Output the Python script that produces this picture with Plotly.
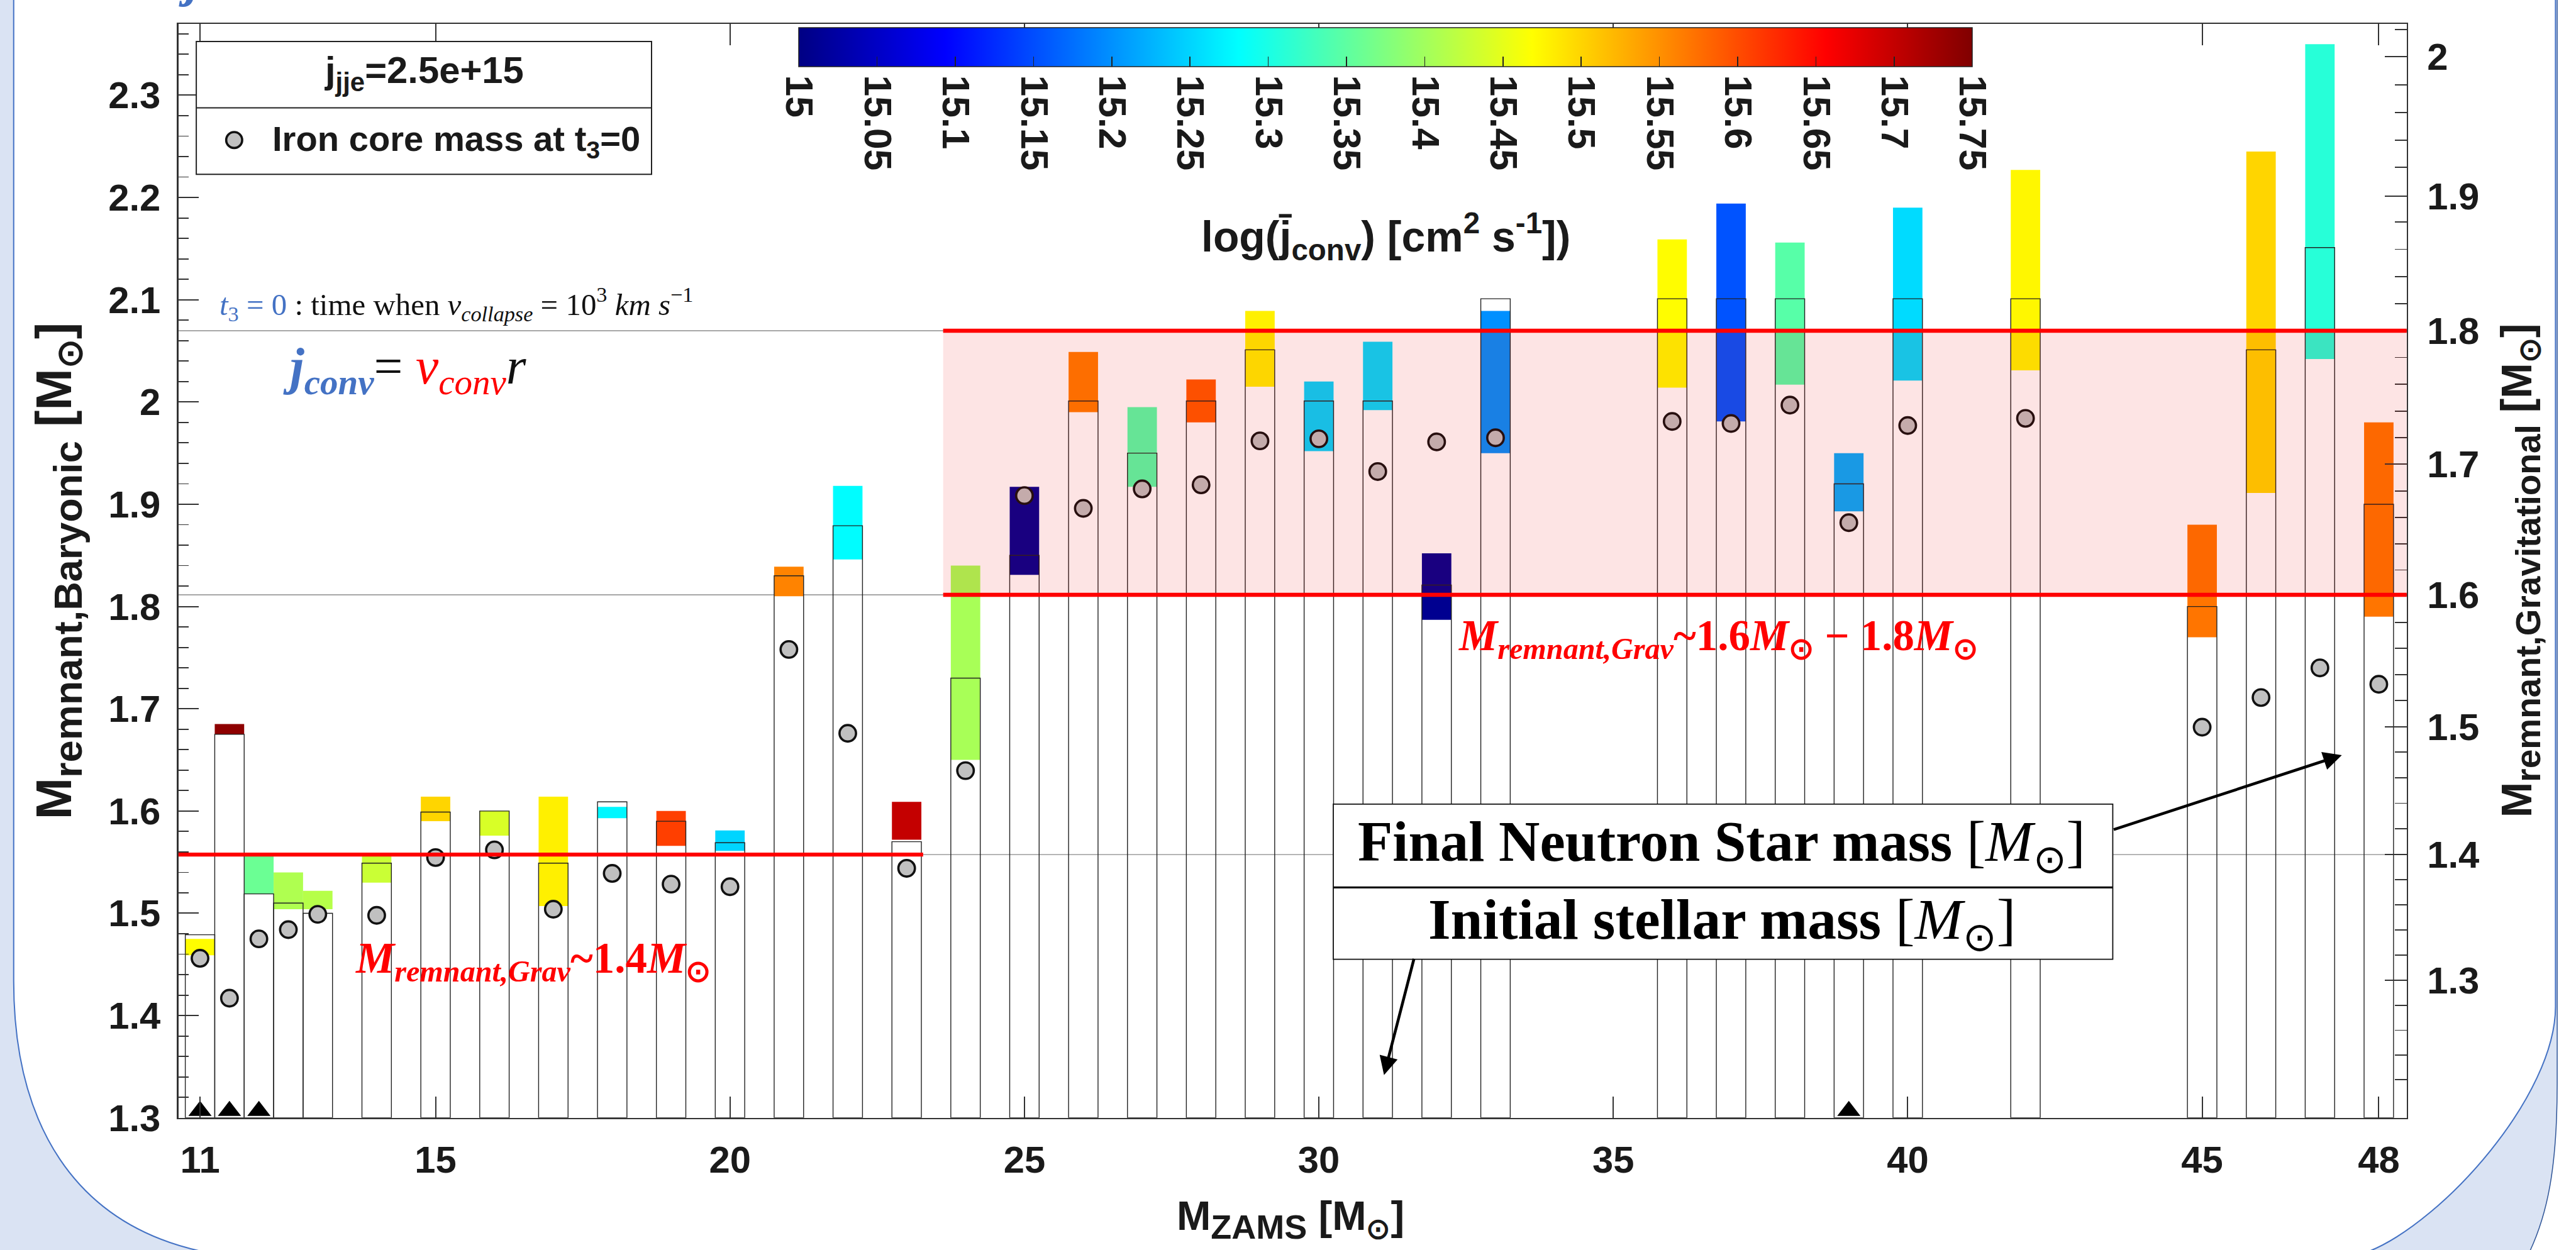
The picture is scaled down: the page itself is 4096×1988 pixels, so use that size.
import numpy as np
import plotly.graph_objects as go

# ---------------- data ----------------
m_zams = [11, 11.5, 12, 12.5, 13, 14, 15, 16, 17, 18, 19, 20, 21, 22, 23, 24, 25,
          26, 27, 28, 29, 30, 31, 32, 33, 36, 37, 38, 39, 40, 42, 45, 46, 47, 48]
m_final = [1.479, 1.675, 1.519, 1.510, 1.500, 1.549, 1.599, 1.600, 1.549, 1.609,
           1.590, 1.569, 1.830, 1.879, 1.570, 1.730, 1.850, 2.001, 1.950, 2.001,
           2.051, 2.001, 2.001, 1.821, 2.101, 2.101, 2.101, 2.101, 1.920, 2.101,
           2.101, 1.800, 2.051, 2.151, 1.900]
m_low = [1.459, 1.675, 1.519, 1.504, 1.504, 1.530, 1.590, 1.576, 1.507, 1.593,
         1.566, 1.561, 1.810, 1.846, 1.572, 1.650, 1.831, 1.990, 1.917, 1.980,
         2.015, 1.952, 1.992, 1.787, 1.950, 2.014, 1.981, 2.017, 1.893, 2.021,
         2.031, 1.770, 1.911, 2.042, 1.790]
m_high = [1.475, 1.685, 1.557, 1.540, 1.522, 1.558, 1.614, 1.600, 1.614, 1.604,
          1.600, 1.581, 1.839, 1.918, 1.609, 1.840, 1.917, 2.049, 1.995, 2.022,
          2.089, 2.020, 2.059, 1.852, 2.089, 2.159, 2.194, 2.156, 1.950, 2.190,
          2.227, 1.880, 2.245, 2.350, 1.980]
log_j = [15.47, 15.74, 15.36, 15.41, 15.415, 15.43, 15.50, 15.44, 15.48, 15.275,
         15.61, 15.25, 15.56, 15.28, 15.70, 15.405, 15.01, 15.565, 15.345, 15.59,
         15.48, 15.25, 15.255, 15.01, 15.20, 15.47, 15.155, 15.345, 15.22, 15.255,
         15.475, 15.57, 15.50, 15.31, 15.57]
iron_core = [1.456, 1.417, 1.475, 1.484, 1.499, 1.498, 1.5545, 1.562, 1.504, 1.539,
             1.5285, 1.526, 1.758, 1.676, 1.544, 1.6395, 1.9085, 1.896, 1.915, 1.919,
             1.962, 1.964, 1.932, 1.961, 1.965, 1.981, 1.979, 1.997, 1.882, 1.977,
             1.984, 1.682, 1.711, 1.740, 1.724]
flag_x = [11, 11.5, 12, 39]
flag_y = [1.3068, 1.3068, 1.3068, 1.3068]

x_ticks = [11, 15, 20, 25, 30, 35, 40, 45, 48]
y_ticks = [1.3, 1.4, 1.5, 1.6, 1.7, 1.8, 1.9, 2.0, 2.1, 2.2, 2.3]
y_tick_text = ["1.3", "1.4", "1.5", "1.6", "1.7", "1.8", "1.9", "2", "2.1", "2.2", "2.3"]
grav_vals = [1.3, 1.4, 1.5, 1.6, 1.7, 1.8, 1.9, 2.0]
grav_text = ["1.3", "1.4", "1.5", "1.6", "1.7", "1.8", "1.9", "2"]
grav_on_baryonic = [1.4346, 1.5574, 1.6823, 1.8114, 1.9392, 2.0697, 2.2014, 2.338]
cb_ticks = [15, 15.05, 15.1, 15.15, 15.2, 15.25, 15.3, 15.35, 15.4, 15.45,
            15.5, 15.55, 15.6, 15.65, 15.7, 15.75]
cb_text = ["15", "15.05", "15.1", "15.15", "15.2", "15.25", "15.3", "15.35", "15.4",
           "15.45", "15.5", "15.55", "15.6", "15.65", "15.7", "15.75"]
band_x_start = 23.62   # start of the 1.6-1.8 Msun shaded band
low_line_x_end = 23.28 # end of the 1.4 Msun red line

# ---------------- geometry helpers ----------------
W_REF, H_REF = 4521, 2194
W, H = 4096, 2024
S = W / W_REF          # horizontal pixel scale
SY = H / H_REF         # vertical pixel scale
def fx(X): return X / W_REF
def fy(Y): return 1 - Y / H_REF
def fs(v): return v * S
def fsy(v): return v * SY
def fi(v): return int(round(v * S))
def P(X, Y): return f"{fx(X):.5f},{fy(Y):.5f}"

XMIN, XMAX = 10.632, 48.475
YMIN, YMAX = 1.3, 2.3697

jet = [[0, 'rgb(0,0,131)'], [0.125, 'rgb(0,0,255)'], [0.375, 'rgb(0,255,255)'],
       [0.625, 'rgb(255,255,0)'], [0.875, 'rgb(255,0,0)'], [1, 'rgb(128,0,0)']]

lo = np.array(m_low); hi = np.array(m_high)
fin = np.array(m_final)

conv = np.polyfit(grav_vals, grav_on_baryonic, 2)
minor_g = [g for g in np.round(np.arange(1.20, 2.021, 0.02), 2) if abs(g * 10 - round(g * 10)) > 1e-6]
minor_pos = [float(v) for v in np.polyval(conv, minor_g)]
lvl14, lvl16, lvl18 = grav_on_baryonic[1], grav_on_baryonic[3], grav_on_baryonic[5]

SANS = "Liberation Sans"
SERIF = "Liberation Serif"

fig = go.Figure()
fig.add_trace(go.Bar(
    x=m_zams, y=hi - lo, base=lo, width=0.5, hoverinfo='skip', showlegend=False,
    marker=dict(color=log_j, colorscale=jet, cmin=15, cmax=15.75, line=dict(width=0),
                colorbar=dict(orientation='h', x=fx(1402), xanchor='left', y=fy(48), yanchor='top',
                              len=fs(2060), lenmode='pixels', thickness=fsy(67), thicknessmode='pixels',
                              xpad=0, ypad=0, tickvals=cb_ticks, ticktext=cb_text,
                              ticks='inside', ticklen=fsy(18), tickwidth=1.5, tickcolor='#222',
                              tickangle=90, outlinewidth=1.5, outlinecolor='#222',
                              tickfont=dict(family=SANS, size=fs(67), color='#1a1a1a', weight='bold')))))
fig.add_trace(go.Bar(
    x=m_zams, y=fin - YMIN, base=YMIN, width=0.5, hoverinfo='skip', showlegend=False,
    marker=dict(color='rgba(0,0,0,0)', line=dict(color='#222', width=1.4))))
fig.add_trace(go.Scatter(
    x=m_zams, y=iron_core, mode='markers', showlegend=False,
    marker=dict(symbol='circle', size=fs(29), color='#c0c0c0', line=dict(color='#111', width=fs(4)))))
fig.add_trace(go.Scatter(
    x=flag_x, y=flag_y, mode='markers', showlegend=False,
    marker=dict(symbol='triangle-up', size=32, color='black', line=dict(width=0))))
fig.add_trace(go.Scatter(x=[XMIN], y=[YMIN], yaxis='y2', mode='markers', marker=dict(opacity=0),
                         showlegend=False, hoverinfo='skip'))
fig.add_trace(go.Scatter(x=[XMIN], y=[YMIN], yaxis='y3', mode='markers', marker=dict(opacity=0),
                         showlegend=False, hoverinfo='skip'))

tickfont = dict(family=SANS, size=fs(66), color='#1a1a1a', weight='bold')
AX = '#333'
fig.update_layout(
    width=W, height=H, autosize=False, margin=dict(l=0, r=0, t=0, b=0, pad=0),
    paper_bgcolor='white', plot_bgcolor='rgba(0,0,0,0)', barmode='overlay',
    font=dict(family=SANS),
    xaxis=dict(domain=[fx(313), fx(4224)], range=[XMIN, XMAX], tickmode='array',
               tickvals=x_ticks, ticktext=[str(t) for t in x_ticks], ticks='inside',
               ticklen=fsy(37), tickwidth=fs(2.2), tickcolor=AX, showline=True, linecolor=AX,
               linewidth=fs(2.5), mirror='ticks', showgrid=False, zeroline=False,
               tickfont=tickfont, ticklabelstandoff=int(round(fsy(14)))),
    yaxis=dict(domain=[fy(1960), fy(42)], range=[YMIN, YMAX], tickmode='array',
               tickvals=y_ticks, ticktext=y_tick_text, ticks='inside', ticklen=fs(36),
               tickwidth=fs(2.2), tickcolor=AX, showline=True, linecolor=AX, linewidth=fs(2.5),
               mirror=True, showgrid=False, zeroline=False, tickfont=tickfont,
               ticklabelstandoff=fi(16),
               minor=dict(tickvals=[float(v) for v in np.round(np.arange(1.32, 2.37, 0.02), 2)], ticks='inside',
                          ticklen=fs(18), tickwidth=fs(2), tickcolor=AX, showgrid=False)),
    yaxis2=dict(overlaying='y', side='right', anchor='x', range=[YMIN, YMAX], tickmode='array',
                tickvals=grav_on_baryonic, ticktext=grav_text, ticks='inside', ticklen=fs(39),
                tickwidth=fs(2.2), tickcolor=AX, showline=True, linecolor=AX, linewidth=fs(2.5),
                showgrid=False, zeroline=False, tickfont=tickfont, ticklabelstandoff=fi(20)),
    yaxis3=dict(overlaying='y', side='right', anchor='x', range=[YMIN, YMAX], tickmode='array',
                tickvals=minor_pos, ticks='inside', ticklen=fs(21), tickwidth=fs(2), tickcolor=AX,
                showticklabels=False, showline=False, showgrid=False, zeroline=False),
)

shapes = []
# slide background: light-blue frame and white rounded panel (kept inside the canvas)
shapes.append(dict(type='path', xref='paper', yref='paper', layer='below',
                   path=f"M{P(0,0)} L{P(4488,0)} L{P(4488,1900)} C{P(4488,2050)} {P(4470,2130)} {P(4440,2194)} "
                        f"L{P(0,2194)} Z",
                   fillcolor='#dae3f3', line=dict(width=0)))
shapes.append(dict(type='path', xref='paper', yref='paper', layer='below',
                   path=f"M{P(4488,0)} L{P(4488,1900)} C{P(4488,2050)} {P(4470,2130)} {P(4440,2194)}",
                   fillcolor='rgba(0,0,0,0)', line=dict(color='#2f5597', width=1.5)))
shapes.append(dict(type='path', xref='paper', yref='paper', layer='below',
                   path=f"M{P(24,0)} L{P(4485,0)} L{P(4485,1765)} C{P(4485,1920)} {P(4290,2140)} {P(4158,2194)} "
                        f"L{P(353,2194)} C{P(130,2145)} {P(24,1970)} {P(24,1720)} Z",
                   fillcolor='white', line=dict(width=0)))
shapes.append(dict(type='path', xref='paper', yref='paper', layer='below',
                   path=f"M{P(24,0)} L{P(24,1720)} C{P(24,1970)} {P(130,2145)} {P(353,2194)}",
                   fillcolor='rgba(0,0,0,0)', line=dict(color='#4472c4', width=2)))
shapes.append(dict(type='path', xref='paper', yref='paper', layer='below',
                   path=f"M{P(4485,0)} L{P(4485,1765)} C{P(4485,1920)} {P(4290,2140)} {P(4158,2194)}",
                   fillcolor='rgba(0,0,0,0)', line=dict(color='#4472c4', width=2)))
# thin gray reference lines (gravitational 1.4, 1.6, 1.8)
for lv in (lvl14, lvl16, lvl18):
    shapes.append(dict(type='line', xref='x domain', yref='y', x0=0, x1=1, y0=lv, y1=lv,
                       layer='below', line=dict(color='#8a8a8a', width=fs(1.6))))
# shaded 1.6-1.8 band and red lines
shapes.append(dict(type='rect', xref='x', yref='y', x0=band_x_start, x1=XMAX, y0=lvl16, y1=lvl18,
                   layer='above', fillcolor='rgba(235,0,0,0.105)', line=dict(width=0)))
for lv in (lvl16, lvl18):
    shapes.append(dict(type='line', xref='x', yref='y', x0=band_x_start, x1=XMAX, y0=lv, y1=lv,
                       layer='above', line=dict(color='#ff0000', width=fsy(7))))
shapes.append(dict(type='line', xref='x', yref='y', x0=XMIN, x1=low_line_x_end, y0=lvl14, y1=lvl14,
                   layer='above', line=dict(color='#ff0000', width=fsy(7))))
# legend box
shapes.append(dict(type='rect', xref='paper', yref='paper', layer='above',
                   x0=fx(344.5), x1=fx(1143.5), y0=fy(305.8), y1=fy(72.8),
                   fillcolor='white', line=dict(color='#222', width=fs(2.2))))
shapes.append(dict(type='line', xref='paper', yref='paper', layer='above',
                   x0=fx(344.5), x1=fx(1143.5), y0=fy(189), y1=fy(189), line=dict(color='#222', width=fs(2.2))))
shapes.append(dict(type='circle', xref='paper', yref='paper', layer='above',
                   x0=fx(411 - 14), x1=fx(411 + 14), y0=fy(245.5 + 14), y1=fy(245.5 - 14),
                   fillcolor='#c0c0c0', line=dict(color='#111', width=fs(4))))
# explanation box
shapes.append(dict(type='rect', xref='paper', yref='paper', layer='above',
                   x0=fx(2340), x1=fx(3708), y0=fy(1682), y1=fy(1410),
                   fillcolor='white', line=dict(color='#111', width=fs(2))))
shapes.append(dict(type='line', xref='paper', yref='paper', layer='above',
                   x0=fx(2340), x1=fx(3708), y0=fy(1556), y1=fy(1556), line=dict(color='#111', width=fsy(3.5))))

ann = []
def A(X, Y, text, size, family=SANS, color='#1a1a1a', xanchor='center', yanchor='middle', angle=0, **kw):
    ann.append(dict(xref='paper', yref='paper', x=fx(X), y=fy(Y), text=text, showarrow=False,
                    xanchor=xanchor, yanchor=yanchor, textangle=angle,
                    font=dict(family=family, size=fs(size), color=color, **kw)))

SUN = "\u2299"
# axis titles
A(102, 1001, f"M<sub><span style='font-size:{fs(70):.0f}px'>remnant,Baryonic</span></sub> [M<sub>{SUN}</sub>]",
  88, angle=-90, weight='bold')
A(4423, 1000, f"M<sub><span style='font-size:{fs(61):.0f}px'>remnant,Gravitational</span></sub> [M<sub>{SUN}</sub>]",
  75, angle=-90, weight='bold')
A(2265, 2138, f"M<sub><span style='font-size:{fs(60):.0f}px'>ZAMS</span></sub> [M<sub>{SUN}</sub>]",
  72, weight='bold')
# colorbar title
A(2432, 415, "log(j\u0304<sub>conv</sub>) [cm<sup>2</sup> s<sup>-1</sup>])", 75, weight='bold')
# legend box text
A(744, 128, "j<sub>jje</sub>=2.5e+15", 66, weight='bold')
A(476, 247, "Iron core mass at t<sub>3</sub>=0", 62, xanchor='left', weight='bold')
# notes
A(383, 533, "<span style='color:#4472c4'><i>t</i><sub>3</sub> = 0</span> : time when <i>v</i><sub><i>collapse</i></sub>"
            " = 10<sup>3</sup> <i>km s</i><sup>\u22121</sup>", 54, family=SERIF, xanchor='left', color='#111')
A(495, 648, "<b><i><span style='color:#4472c4'>j</span><sub><span style='color:#4472c4'>conv</span></sub></i></b>"
            "<span style='color:#111'>= </span><i><span style='color:#ff0000'>v</span><sub><span style='color:#ff0000'>conv</span></sub>"
            "<span style='color:#111'>r</span></i>", 90, family=SERIF, xanchor='left')
A(935, 1685, f"<i>M</i><sub><i>remnant,Grav</i></sub>~1.4<i>M</i><sub>{SUN}</sub>", 76, family=SERIF,
  color='#ff0000', weight='bold')
A(3016, 1120, f"<i>M</i><sub><i>remnant,Grav</i></sub>~1.6<i>M</i><sub>{SUN}</sub> \u2212 1.8<i>M</i><sub>{SUN}</sub>",
  76, family=SERIF, color='#ff0000', weight='bold')
A(3022, 1483, f"<b>Final Neutron Star mass</b> [<i>M</i><sub>{SUN}</sub>]", 100, family=SERIF, color='#000')
A(3022, 1619, f"<b>Initial stellar mass</b> [<i>M</i><sub>{SUN}</sub>]", 101, family=SERIF, color='#000')
# cut-off heading at the very top
A(311, 14, "<b><i>j</i> conv</b>", 90, family=SERIF, color='#4472c4', xanchor='left', yanchor='bottom')
# arrows (tail offset given in pixels relative to the tip)
for tip, tail in (((4110, 1324), (3708, 1453)), ((2429, 1885), (2482, 1683))):
    ann.append(dict(xref='paper', yref='paper', axref='pixel', ayref='pixel',
                    x=fx(tip[0]), y=fy(tip[1]), ax=fs(tail[0] - tip[0]), ay=fsy(tail[1] - tip[1]), text='',
                    showarrow=True, arrowhead=2, arrowsize=1.3, arrowwidth=fs(5), arrowcolor='#000',
                    standoff=0, startstandoff=0))

fig.update_layout(shapes=shapes, annotations=ann)

# page styling only: let the figure sit flush in the window (no default body margin)
page_css = ("var d=document.documentElement,b=document.body;"
            "d.style.margin='0';d.style.padding='0';d.style.overflow='hidden';"
            "b.style.margin='0';b.style.padding='0';b.style.overflow='hidden';")
fig.write_html("out.html", post_script=page_css,
               config={'responsive': False, 'displayModeBar': False, 'staticPlot': True})
